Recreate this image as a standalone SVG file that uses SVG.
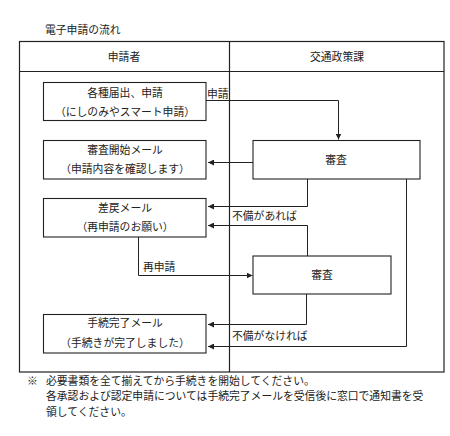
<svg xmlns="http://www.w3.org/2000/svg" width="450" height="436" viewBox="0 0 450 436">
<style>
text{font-family:"Noto Sans CJK JP","Noto Sans CJK SC",sans-serif;font-size:10.8px;fill:#222}
.c{text-anchor:middle}
.box{fill:#fff;stroke:#222;stroke-width:1.1}
.ln{fill:none;stroke:#222;stroke-width:1}
.tb{fill:none;stroke:#222;stroke-width:1.2}
</style>
<defs>
<marker id="ah" markerWidth="6" markerHeight="6" refX="6" refY="3" orient="auto" markerUnits="userSpaceOnUse">
<path d="M0,0 L6,3 L0,6 Z" fill="#222"/>
</marker>
</defs>
<rect width="450" height="436" fill="#fff"/>
<text x="45" y="34">電子申請の流れ</text>
<g id="table">
<rect class="tb" x="19.5" y="41.5" width="424.5" height="330.5"/>
<line class="tb" x1="19.5" y1="71.5" x2="444" y2="71.5"/>
<line class="tb" x1="229.5" y1="41.5" x2="229.5" y2="372"/>
<text class="c" x="124" y="61">申請者</text>
<text class="c" x="337" y="61">交通政策課</text>
</g>
<g id="connectors">
<polyline class="ln" points="206,100.5 338.5,100.5 338.5,139.5" marker-end="url(#ah)"/>
<line class="ln" x1="253" y1="162.5" x2="208" y2="162.5" marker-end="url(#ah)"/>
<polyline class="ln" points="307.5,179 307.5,206.5 208,206.5" marker-end="url(#ah)"/>
<polyline class="ln" points="307.5,256 307.5,225.5 208,225.5" marker-end="url(#ah)"/>
<polyline class="ln" points="406.5,179 406.5,346.5 208,346.5" marker-end="url(#ah)"/>
<polyline class="ln" points="138.5,237 138.5,275.5 252.5,275.5" marker-end="url(#ah)"/>
<polyline class="ln" points="306.5,294 306.5,324.5 208,324.5" marker-end="url(#ah)"/>
<text x="207" y="98">申請</text>
<text x="232" y="220">不備があれば</text>
<text x="143" y="271">再申請</text>
<text x="232" y="340">不備がなければ</text>
</g>
<g id="n1">
<rect class="box" x="43.5" y="82.5" width="162.5" height="38"/>
<text class="c" x="125" y="97">各種届出、申請</text>
<text class="c" x="125" y="116">（にしのみやスマート申請）</text>
</g>
<g id="n2">
<rect class="box" x="43.5" y="140.5" width="162.5" height="38.5"/>
<text class="c" x="125" y="154">審査開始メール</text>
<text class="c" x="125" y="173">（申請内容を確認します）</text>
</g>
<g id="n3">
<rect class="box" x="253" y="140.5" width="167" height="38.5"/>
<text class="c" x="336" y="164">審査</text>
</g>
<g id="n4">
<rect class="box" x="43.5" y="198.5" width="162.5" height="38.5"/>
<text class="c" x="125" y="212">差戻メール</text>
<text class="c" x="125" y="231">（再申請のお願い）</text>
</g>
<g id="n5">
<rect class="box" x="253" y="256" width="138" height="38"/>
<text class="c" x="322" y="279">審査</text>
</g>
<g id="n6">
<rect class="box" x="43.5" y="314.5" width="162.5" height="38.5"/>
<text class="c" x="125" y="327">手続完了メール</text>
<text class="c" x="125" y="347">（手続きが完了しました）</text>
</g>
<g id="notes">
<text x="27" y="385">※</text>
<text x="46" y="385">必要書類を全て揃えてから手続きを開始してください。</text>
<text x="46" y="400">各承認および認定申請については手続完了メールを受信後に窓口で通知書を受</text>
<text x="46" y="416">領してください。</text>
</g>
</svg>
